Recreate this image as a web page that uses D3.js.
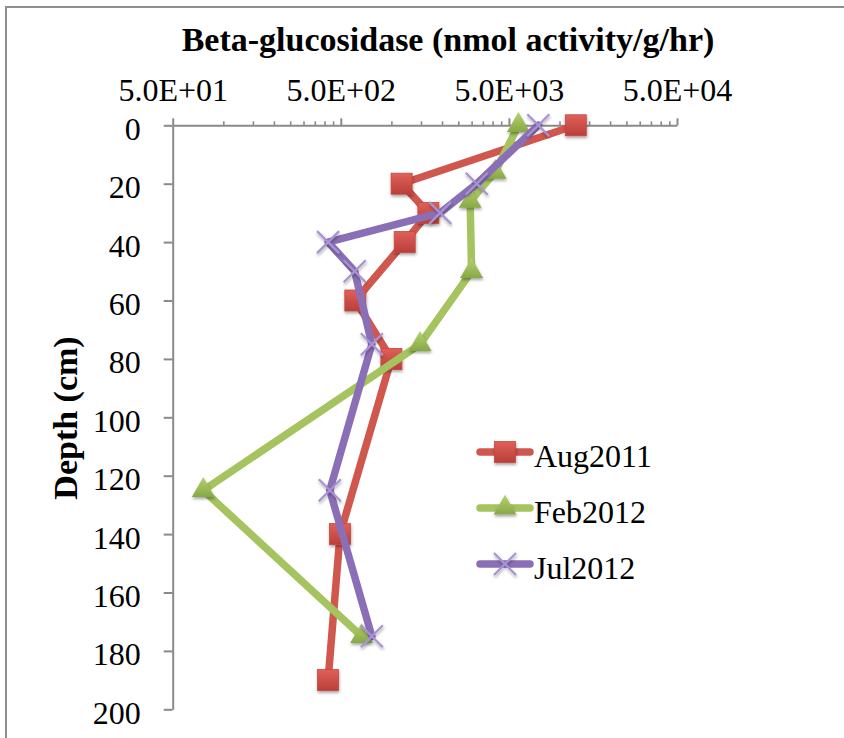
<!DOCTYPE html>
<html>
<head>
<meta charset="utf-8">
<script src="https://cdn.jsdelivr.net/npm/d3@7"></script>
<style>
  html, body { margin: 0; padding: 0; background: #fff; }
  svg { display: block; }
  text { font-family: "Liberation Serif", "Times New Roman", serif; fill: #000; }
</style>
</head>
<body>
<svg id="chart" width="844" height="738"></svg>
<script>
// Beta-glucosidase activity profiles by depth, three sampling dates
const seriesNames = ["Aug2011", "Feb2012", "Jul2012"];

const augDepth    = [0, 20, 30, 40, 60, 80, 140, 190];
const augActivity = [12500, 1150, 1660, 1200, 610, 1000, 495, 420];

const febDepth    = [0, 16, 26, 50, 75, 125, 175];
const febActivity = [5700, 4140, 2940, 3000, 1480, 76, 665];

const julDepth    = [0, 20, 30, 40, 50, 75, 125, 175];
const julActivity = [7480, 3220, 1950, 420, 605, 765, 430, 765];

const xTickValues = [50, 500, 5000, 50000];
const xTickLabels = ["5.0E+01", "5.0E+02", "5.0E+03", "5.0E+04"];
const yTickValues = [0, 20, 40, 60, 80, 100, 120, 140, 160, 180, 200];

const titleText  = "Beta-glucosidase (nmol activity/g/hr)";
const yTitleText = "Depth (cm)";

const svg = d3.select("#chart");
const AXIS_GREY = "#8a8a8a";

// chart frame
svg.append("rect")
  .attr("x", 6).attr("y", 7).attr("width", 900).attr("height", 800)
  .attr("fill", "none").attr("stroke", "#8f8f8f").attr("stroke-width", 2);

const x = d3.scaleLog().domain([50, 50000]).range([172.7, 677]);
const y = d3.scaleLinear().domain([0, 200]).range([125.3, 709.3]);

// gradients and shadow for markers
const defs = svg.append("defs");
function grad(id, top, bottom) {
  const g = defs.append("linearGradient").attr("id", id)
    .attr("x1", 0).attr("y1", 0).attr("x2", 0).attr("y2", 1);
  g.append("stop").attr("offset", "0%").attr("stop-color", top);
  g.append("stop").attr("offset", "100%").attr("stop-color", bottom);
}
grad("gRed", "#e0605a", "#b93f38");
grad("gGreen", "#b5d26f", "#88a846");
const shadow = defs.append("filter").attr("id", "shadow")
  .attr("x", "-50%").attr("y", "-50%").attr("width", "200%").attr("height", "200%");
shadow.append("feDropShadow").attr("dx", 0.5).attr("dy", 2).attr("stdDeviation", 1.6)
  .attr("flood-color", "#000").attr("flood-opacity", 0.35);

// minor ticks of the log axis: 2..9 times the start of each decade
const minorTicks = [];
for (let i = 0; i < xTickValues.length - 1; i++) {
  for (let k = 2; k <= 9; k++) minorTicks.push(xTickValues[i] * k);
}

// x axis (top)
const xMinor = svg.append("g").attr("transform", `translate(0,${y(0)})`)
  .call(d3.axisTop(x).tickValues(minorTicks).tickSize(4).tickFormat(""));
xMinor.select(".domain").remove();
xMinor.selectAll("line").attr("stroke", AXIS_GREY).attr("stroke-width", 1.6);

const xAxis = svg.append("g").attr("transform", `translate(0,${y(0)})`)
  .call(d3.axisTop(x).tickValues(xTickValues).tickSizeInner(7).tickSizeOuter(0)
    .tickPadding(17).tickFormat((d, i) => xTickLabels[i]));
xAxis.select(".domain").attr("stroke", AXIS_GREY).attr("stroke-width", 2);
xAxis.selectAll("line").attr("stroke", AXIS_GREY).attr("stroke-width", 2);
xAxis.selectAll("text").attr("font-size", 32).attr("font-family", "Liberation Serif").attr("fill", "#000");

// y axis (left)
const yAxis = svg.append("g").attr("transform", `translate(${x(50)},0)`)
  .call(d3.axisLeft(y).tickValues(yTickValues).tickSizeInner(9).tickSizeOuter(0).tickPadding(23));
yAxis.select(".domain").attr("stroke", AXIS_GREY).attr("stroke-width", 2);
yAxis.selectAll("line").attr("stroke", AXIS_GREY).attr("stroke-width", 2);
yAxis.selectAll("text").attr("font-size", 32).attr("font-family", "Liberation Serif")
  .attr("fill", "#000").attr("dy", "0.44em");

// titles
svg.append("text").attr("x", 448).attr("y", 51).attr("text-anchor", "middle")
  .attr("font-size", 34).attr("font-weight", "bold").text(titleText);
svg.append("text").attr("transform", "translate(77,418) rotate(-90)")
  .attr("text-anchor", "middle").attr("font-size", 34).attr("font-weight", "bold")
  .text(yTitleText);

// marker painters
function square(g, s) {
  g.append("rect").attr("x", -s / 2).attr("y", -s / 2).attr("width", s).attr("height", s)
    .attr("fill", "url(#gRed)").attr("stroke", "#c8463e").attr("stroke-width", 0.8)
    .attr("filter", "url(#shadow)");
}
function triangle(g, s) {
  g.append("path").attr("d", d3.symbol(d3.symbolTriangle, s * s * 0.43)())
    .attr("fill", "url(#gGreen)").attr("filter", "url(#shadow)");
}
function cross(g, s) {
  const h = s / 2;
  g.append("path").attr("d", `M${-h},${-h}L${h},${h}M${-h},${h}L${h},${-h}`)
    .attr("stroke", "#a793d4").attr("stroke-width", 2.2).attr("fill", "none")
    .attr("filter", "url(#shadow)");
}

const series = [
  { name: seriesNames[0], depth: augDepth, value: augActivity, line: "#d0574e", marker: square, size: 21 },
  { name: seriesNames[1], depth: febDepth, value: febActivity, line: "#a5c35f", marker: triangle, size: 23 },
  { name: seriesNames[2], depth: julDepth, value: julActivity, line: "#8b6fb6", marker: cross, size: 22 }
];

const line = d3.line().x(d => x(d[0])).y(d => y(d[1]));

series.forEach(s => {
  const pts = s.value.map((v, i) => [v, s.depth[i]]);
  const g = svg.append("g");
  g.append("path").attr("d", line(pts)).attr("fill", "none")
    .attr("stroke", s.line).attr("stroke-width", 7.5)
    .attr("stroke-linejoin", "round").attr("stroke-linecap", "round");
  pts.forEach(p => {
    const m = g.append("g").attr("transform", `translate(${x(p[0])},${y(p[1])})`);
    s.marker(m, s.size);
  });
});

// legend
const legend = svg.append("g");
series.forEach((s, i) => {
  const cy = 452 + i * 56;
  legend.append("line").attr("x1", 480).attr("x2", 530).attr("y1", cy).attr("y2", cy)
    .attr("stroke", s.line).attr("stroke-width", 7.5).attr("stroke-linecap", "round");
  const m = legend.append("g").attr("transform", `translate(505,${cy})`);
  s.marker(m, s.size);
  legend.append("text").attr("x", 534).attr("y", cy + 15).attr("font-size", 32).text(s.name);
});
</script>
</body>
</html>
